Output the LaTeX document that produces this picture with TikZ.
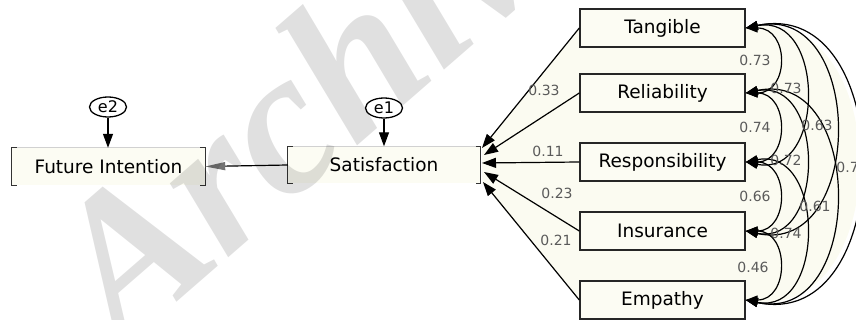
\documentclass[tikz,border=0pt]{standalone}
\usepackage{fontspec}
\setmainfont{DejaVu Sans}
\newfontfamily\wmfont{Liberation Serif}
\usetikzlibrary{arrows.meta,shapes.geometric}
\definecolor{cream}{RGB}{251,251,241}
\definecolor{boxfill}{RGB}{252,252,243}
\definecolor{labgray}{RGB}{90,90,90}

\begin{document}
\begin{tikzpicture}[x=1pt,y=-1pt,
  font=\fontsize{18.5}{21}\selectfont,
  var/.style={draw=black!85, line width=1.4pt, fill=boxfill,
    minimum width=165pt, minimum height=38pt, inner sep=0pt},
  brkbox/.style={fill=boxfill, inner sep=0pt, minimum height=37pt},
  err/.style={ellipse, draw=black, line width=1.3pt, fill=white,
    minimum width=37pt, minimum height=20pt, inner sep=0pt,
    font=\fontsize{16}{18}\selectfont},
  reg/.style={line width=1.2pt, -{Triangle[length=14pt,width=10pt]}},
  cov/.style={line width=1.2pt,
    {Triangle[length=12pt,width=9pt]}-{Triangle[length=12pt,width=9pt]}},
  coef/.style={text=labgray, inner sep=0pt, font=\fontsize{14}{16}\selectfont},
  brk/.style={line width=1.3pt, draw=black!80},
]
\useasboundingbox (0,0) rectangle (856,320);

% light background behind the measurement part
\fill[cream] (482,147) -- (580,28) -- (580,9) -- (745,9) -- (745,28)
  .. controls (898,-5) and (898,333) .. (745,300)
  -- (745,319) -- (580,319) -- (580,300) -- (482,183) -- cycle;

% observed exogenous variables
\node[var] (tan) at (662.5,28)  {Tangible};
\node[var] (rel) at (662.5,93)  {Reliability};
\node[var] (res) at (662.5,162) {Responsibility};
\node[var] (ins) at (662.5,231) {Insurance};
\node[var] (emp) at (662.5,300) {Empathy};

% endogenous variables drawn with bracket sides
\node[brkbox, minimum width=192pt] (sat) at (384,165) {Satisfaction};
\node[brkbox, minimum width=193pt] (fi) at (108.5,166.5) {Future Intention};
\draw[black!18, line width=0.8pt] (sat.north west) -- (sat.north east);
\draw[black!18, line width=0.8pt] (fi.north west) -- (fi.north east);
\draw[brk] ([xshift=5pt]sat.north west) -- (sat.north west) -- (sat.south west) -- ([xshift=5pt]sat.south west);
\draw[brk] ([xshift=-4pt]sat.north east) -- (sat.north east) -- (sat.south east) -- ([xshift=-4pt]sat.south east);
\draw[brk] ([xshift=5pt]fi.north west) -- (fi.north west) -- (fi.south west) -- ([xshift=5pt]fi.south west);
\draw[brk] ([xshift=-5pt]fi.north east) -- (fi.north east) -- (fi.south east) -- ([xshift=-5pt]fi.south east);

% error terms
\node[err] (e1) at (384,108) {e1};
\node[err] (e2) at (108,107) {e2};
\draw[reg] (e1) -- (sat.north -| e1);
\draw[reg] (e2) -- (fi.north -| e2);

% satisfaction -> future intention
\draw[line width=1.2pt, -{Triangle[length=20pt,width=8pt,color=black!55]}] (sat.west) -- (fi.east);

% regression paths into satisfaction
\coordinate (s1) at (482,148);
\coordinate (s2) at (484,155);
\coordinate (s3) at (482,163);
\coordinate (s4) at (484,172);
\coordinate (s5) at (483,182);
\draw[reg] (tan.west) -- (s1);
\draw[reg] (rel.west) -- (s2);
\draw[reg] (res.west) -- (s3);
\draw[reg] (ins.west) -- (s4);
\draw[reg] (emp.west) -- (s5);
\node[coef] (p1) at (544,90)  {0.33};
\node[coef] (p2) at (548,151) {0.11};
\node[coef] (p3) at (557,193) {0.23};
\node[coef] (p4) at (556,240) {0.21};

% covariances between the service dimensions
\draw[cov] (tan.east) .. controls +(44,0) and +(44,0) .. (rel.east);
\draw[cov] (rel.east) .. controls +(44,0) and +(44,0) .. (res.east);
\draw[cov] (res.east) .. controls +(44,0) and +(44,0) .. (ins.east);
\draw[cov] (ins.east) .. controls +(44,0) and +(44,0) .. (emp.east);
\draw[cov] (tan.east) .. controls +(80,-16) and +(80,16) .. (res.east);
\draw[cov] (rel.east) .. controls +(80,-16) and +(80,16) .. (ins.east);
\draw[cov] (res.east) .. controls +(80,-16) and +(80,16) .. (emp.east);
\draw[cov] (tan.east) .. controls +(120,-26) and +(120,26) .. (ins.east);
\draw[cov] (rel.east) .. controls +(120,-26) and +(120,26) .. (emp.east);
\draw[cov] (tan.east) .. controls +(153,-33) and +(153,33) .. (emp.east);

\node[coef] (c1) at (755,60)  {0.73};
\node[coef] (c2) at (755,127) {0.74};
\node[coef] (c3) at (755,196) {0.66};
\node[coef] (c4) at (753,267) {0.46};
\node[coef] (c5) at (786,88)  {0.73};
\node[coef] (c6) at (786,160) {0.72};
\node[coef] (c7) at (786,233) {0.74};
\node[coef] (c8) at (817,125) {0.63};
\node[coef] (c9) at (815,206) {0.61};
\node[coef] (c10) at (852,167) {0.71};

% watermark
\node[rotate=41, anchor=base west, inner sep=0pt, text=black, text opacity=0.12,
  font=\wmfont\bfseries\itshape\fontsize{205}{205}\selectfont] (wm) at (122,350) {Archive};
\end{tikzpicture}
\end{document}
